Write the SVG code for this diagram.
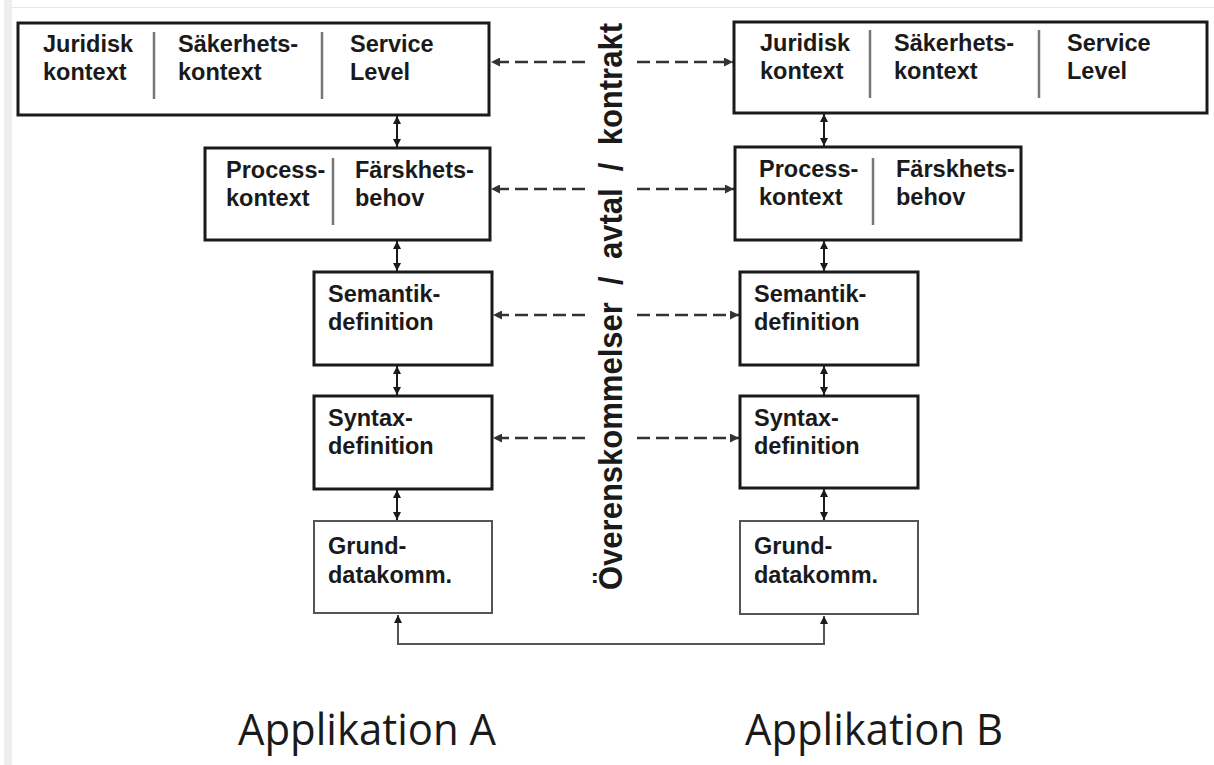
<svg xmlns="http://www.w3.org/2000/svg" width="1214" height="765" viewBox="0 0 1214 765">
<style>
.box{fill:#fff;stroke:#1a1a1a;stroke-width:3}
.gbox{fill:#fff;stroke:#555;stroke-width:2}
.div{stroke:#777;stroke-width:2.5}
.t{font-family:"Liberation Sans",Arial,sans-serif;font-weight:bold;font-size:23.5px;fill:#1a1a1a}
.app{font-family:"Open Sans","Noto Sans",sans-serif;font-size:43px;fill:#1a1a1a}
.vt{font-family:"Liberation Sans",Arial,sans-serif;font-weight:bold;font-size:34px;fill:#1a1a1a;white-space:pre}
.dash{stroke:#333;stroke-width:2.5;stroke-dasharray:13 6;fill:none}
.v{stroke:#1a1a1a;stroke-width:2;fill:none}
.g{stroke:#555;stroke-width:2;fill:none}
</style>
<defs>
<marker id="ah" viewBox="0 0 10 10" refX="10" refY="5" markerWidth="9" markerHeight="8" markerUnits="userSpaceOnUse" orient="auto-start-reverse">
<path d="M0,0 L10,5 L0,10 z" fill="#1a1a1a"/>
</marker>
<marker id="ahg" viewBox="0 0 10 10" refX="10" refY="5" markerWidth="9" markerHeight="9" markerUnits="userSpaceOnUse" orient="auto-start-reverse">
<path d="M0,0 L10,5 L0,10 z" fill="#333"/>
</marker>
</defs>
<rect x="0" y="0" width="1214" height="765" fill="#fff"/>
<rect x="4" y="0" width="8" height="765" fill="#eeeeee"/>
<line x1="12" y1="7.5" x2="1214" y2="7.5" stroke="#e8e8e8" stroke-width="1"/>

<g id="connectors">
<line class="v" x1="397" y1="116" x2="397" y2="147" marker-start="url(#ah)" marker-end="url(#ah)"/>
<line class="v" x1="397" y1="241" x2="397" y2="271" marker-start="url(#ah)" marker-end="url(#ah)"/>
<line class="v" x1="397" y1="366" x2="397" y2="395" marker-start="url(#ah)" marker-end="url(#ah)"/>
<line class="v" x1="397" y1="490" x2="397" y2="520" marker-start="url(#ah)" marker-end="url(#ah)"/>
<line class="v" x1="824" y1="114" x2="824" y2="146" marker-start="url(#ah)" marker-end="url(#ah)"/>
<line class="v" x1="824" y1="241" x2="824" y2="271" marker-start="url(#ah)" marker-end="url(#ah)"/>
<line class="v" x1="824" y1="366" x2="824" y2="395" marker-start="url(#ah)" marker-end="url(#ah)"/>
<line class="v" x1="824" y1="489" x2="824" y2="520" marker-start="url(#ah)" marker-end="url(#ah)"/>
<path class="g" d="M398,615 L398,644 L824,644 L824,616" marker-start="url(#ah)" marker-end="url(#ah)"/>
<line class="dash" x1="585" y1="62" x2="491" y2="62" marker-end="url(#ahg)"/>
<line class="dash" x1="637" y1="62" x2="733" y2="62" marker-end="url(#ahg)"/>
<line class="dash" x1="585" y1="189" x2="491" y2="189" marker-end="url(#ahg)"/>
<line class="dash" x1="637" y1="189" x2="734" y2="189" marker-end="url(#ahg)"/>
<line class="dash" x1="585" y1="315" x2="493" y2="315" marker-end="url(#ahg)"/>
<line class="dash" x1="637" y1="315" x2="739" y2="315" marker-end="url(#ahg)"/>
<line class="dash" x1="585" y1="438" x2="493" y2="438" marker-end="url(#ahg)"/>
<line class="dash" x1="637" y1="438" x2="739" y2="438" marker-end="url(#ahg)"/>
</g>

<g id="topA">
<rect class="box" x="18" y="23" width="471" height="92"/>
<line class="div" x1="154" y1="32" x2="154" y2="99"/>
<line class="div" x1="322" y1="32" x2="322" y2="99"/>
<text class="t" x="43" y="52">Juridisk</text><text class="t" x="43" y="80">kontext</text>
<text class="t" x="178" y="52">Säkerhets-</text><text class="t" x="178" y="80">kontext</text>
<text class="t" x="350" y="52">Service</text><text class="t" x="350" y="80">Level</text>
</g>
<g id="topB">
<rect class="box" x="734" y="22" width="473" height="91"/>
<line class="div" x1="870" y1="30" x2="870" y2="98"/>
<line class="div" x1="1039" y1="30" x2="1039" y2="98"/>
<text class="t" x="760" y="51">Juridisk</text><text class="t" x="760" y="79">kontext</text>
<text class="t" x="894" y="51">Säkerhets-</text><text class="t" x="894" y="79">kontext</text>
<text class="t" x="1067" y="51">Service</text><text class="t" x="1067" y="79">Level</text>
</g>
<g id="processA">
<rect class="box" x="205" y="148" width="285" height="92"/>
<line class="div" x1="333" y1="158" x2="333" y2="225"/>
<text class="t" x="226" y="178">Process-</text><text class="t" x="226" y="206">kontext</text>
<text class="t" x="355" y="178">Färskhets-</text><text class="t" x="355" y="206">behov</text>
</g>
<g id="processB">
<rect class="box" x="735" y="147" width="286" height="93"/>
<line class="div" x1="873" y1="158" x2="873" y2="225"/>
<text class="t" x="759" y="177">Process-</text><text class="t" x="759" y="205">kontext</text>
<text class="t" x="896" y="177">Färskhets-</text><text class="t" x="896" y="205">behov</text>
</g>
<g id="semantikA">
<rect class="box" x="314" y="272" width="178" height="93"/>
<text class="t" x="328" y="302">Semantik-</text><text class="t" x="328" y="330">definition</text>
</g>
<g id="semantikB">
<rect class="box" x="740" y="272" width="178" height="93"/>
<text class="t" x="754" y="302">Semantik-</text><text class="t" x="754" y="330">definition</text>
</g>
<g id="syntaxA">
<rect class="box" x="314" y="396" width="178" height="93"/>
<text class="t" x="328" y="426">Syntax-</text><text class="t" x="328" y="454">definition</text>
</g>
<g id="syntaxB">
<rect class="box" x="740" y="396" width="178" height="92"/>
<text class="t" x="754" y="426">Syntax-</text><text class="t" x="754" y="454">definition</text>
</g>
<g id="grundA">
<rect class="gbox" x="314" y="521" width="178" height="92"/>
<text class="t" x="328" y="554">Grund-</text><text class="t" x="328" y="583">datakomm.</text>
</g>
<g id="grundB">
<rect class="gbox" x="740" y="521" width="178" height="93"/>
<text class="t" x="754" y="554">Grund-</text><text class="t" x="754" y="583">datakomm.</text>
</g>

<g id="agreement">
<text class="vt" transform="translate(622,590) rotate(-90)" x="0" y="0" textLength="567" lengthAdjust="spacingAndGlyphs" xml:space="preserve">Överenskommelser  /  avtal  /  kontrakt</text>
</g>
<g id="labels">
<text class="app" x="238" y="745" textLength="258" lengthAdjust="spacingAndGlyphs">Applikation A</text>
<text class="app" x="745" y="745" textLength="258" lengthAdjust="spacingAndGlyphs">Applikation B</text>
</g>
</svg>
